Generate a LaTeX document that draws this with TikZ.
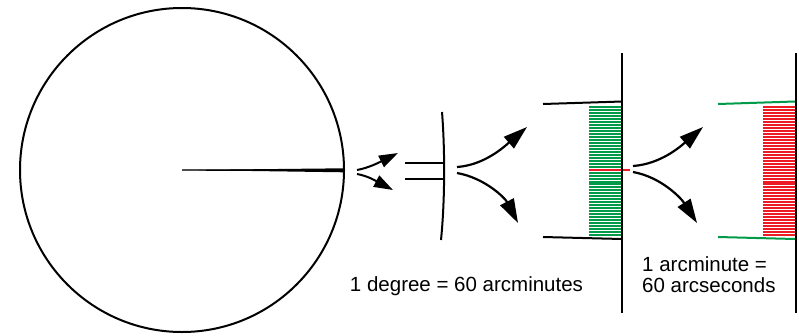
\documentclass[tikz,border=0pt]{standalone}
\usepackage{fontspec}
\setmainfont{Liberation Sans}
\usetikzlibrary{arrows.meta}
\definecolor{arcgreen}{RGB}{0,155,72}
\definecolor{arcred}{RGB}{237,28,36}
\begin{document}
\begin{tikzpicture}[x=1pt,y=-1pt,
  edge/.style={line width=2pt,black},
  bigarrow/.style={line width=2.2pt,-{Triangle[length=24pt,width=15pt]}},
  smallarrow/.style={line width=2pt,-{Triangle[length=19pt,width=12.5pt]}},
  hatch/.style={line width=2pt},
  lbl/.style={font=\fontsize{20.5}{21}\selectfont,inner sep=0pt}]
\useasboundingbox (0,0) rectangle (799,335);
% circle and radius wedge
\coordinate (c) at (182,170);
\draw[edge] (c) circle (162);
\coordinate (r1) at (344,168.3);
\coordinate (r2) at (344,172.3);
\fill (c) -- (r1) -- (r2) -- cycle;
\draw[line width=1.4pt] (c) -- (344,170.3);
% small arrows
\coordinate (s0a) at (357,170);
\coordinate (s0b) at (357,174);
\coordinate (s1) at (398,153);
\coordinate (s2) at (393,190);
\draw[smallarrow] (s0a) .. controls (368,168) and (378,163) .. (s1);
\draw[smallarrow] (s0b) .. controls (368,176) and (376,181) .. (s2);
% second stage
\coordinate (a1) at (405,162.5);
\coordinate (a2) at (443,162.5);
\coordinate (b1) at (405,179);
\coordinate (b2) at (443,179);
\draw[edge] (a1) -- (a2);
\draw[edge] (b1) -- (b2);
\coordinate (arcT) at (442,112);
\coordinate (arcB) at (441,240);
\draw[edge] (arcT) .. controls (445,150) and (445,200) .. (arcB);
\coordinate (u0) at (457,167);
\coordinate (u1) at (527,127);
\coordinate (l0) at (457,173);
\coordinate (l1) at (518,223);
\draw[bigarrow] (u0) .. controls (485,165) and (505,146) .. (u1);
\draw[bigarrow] (l0) .. controls (485,178) and (505,198) .. (l1);
% third stage
\foreach \i in {0,...,43} {
  \draw[arcgreen,hatch] (589,{107+\i*2.98}) -- (621,{107+\i*2.98});
}
\draw[arcred,line width=1.8pt] (589,170) -- (630,170);
\coordinate (m1) at (543,104);
\coordinate (m2) at (622,101.5);
\coordinate (n1) at (543,237);
\coordinate (n2) at (622,239);
\draw[edge] (m1) -- (m2);
\draw[edge] (n1) -- (n2);
\coordinate (vT) at (622,53);
\coordinate (vB) at (622,313);
\draw[edge] (vT) -- (vB);
% fourth stage
\coordinate (p0) at (633,166);
\coordinate (p1) at (703,127);
\coordinate (q0) at (633,172);
\coordinate (q1) at (697,223);
\draw[bigarrow] (p0) .. controls (661,164) and (681,146) .. (p1);
\draw[bigarrow] (q0) .. controls (661,177) and (681,198) .. (q1);
\foreach \i in {0,...,43} {
  \draw[arcred,hatch] (763,{107+\i*2.98}) -- (795,{107+\i*2.98});
}
\coordinate (g1) at (718,104);
\coordinate (g2) at (795,101.5);
\coordinate (h1) at (718,237);
\coordinate (h2) at (795,239);
\draw[arcgreen,line width=2pt] (g1) -- (g2);
\draw[arcgreen,line width=2pt] (h1) -- (h2);
\coordinate (wT) at (796,53);
\coordinate (wB) at (796,313);
\draw[edge] (wT) -- (wB);
% labels
\node[lbl,anchor=base] (t1) at (466.5,291.5) {1 degree = 60 arcminutes};
\node[lbl,anchor=base west,align=left] (t2) at (642,292) {1 arcminute =\\60 arcseconds};
\end{tikzpicture}
\end{document}
